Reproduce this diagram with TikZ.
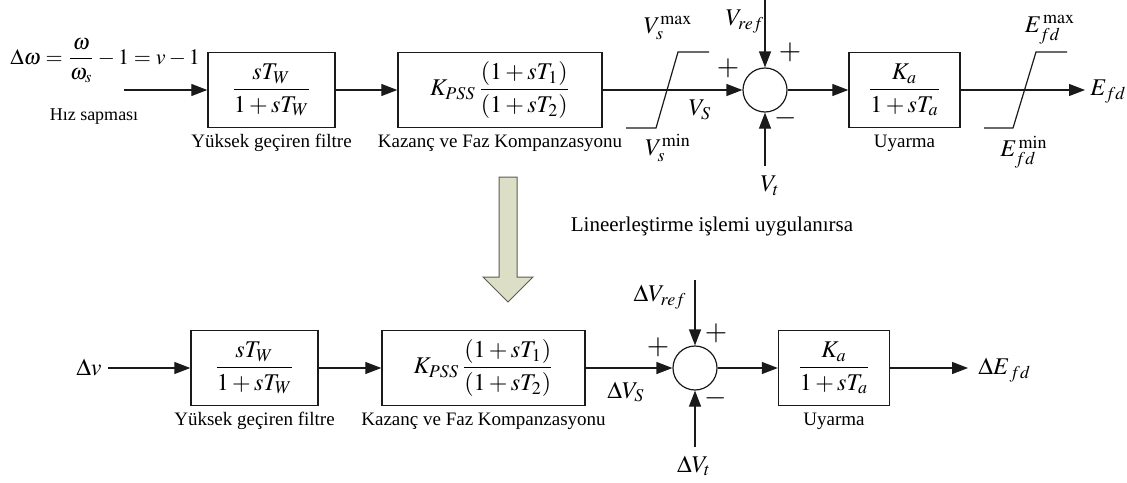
\documentclass[tikz,border=0pt]{standalone}
\usepackage{amsmath}
\usepackage{mathptmx}
\usepackage{fontspec}
\setmainfont{Liberation Serif}
\usepackage{tikz}
\usetikzlibrary{arrows.meta,positioning}
\definecolor{ink}{HTML}{1A1A1A}
\definecolor{olive}{HTML}{DCDFC6}
\definecolor{oliveline}{HTML}{5A5E52}
\tikzset{
  blk/.style={draw=ink,line width=0.7pt,minimum height=37.5pt,inner sep=0pt,font=\large},
  sumc/.style={draw=ink,line width=0.6pt,circle,minimum size=22pt,inner sep=0pt},
  fl/.style={-{Triangle[length=8pt,width=6pt]},draw=ink,line width=0.6pt},
  lim/.style={draw=ink,line width=0.6pt},
  capt/.style={font=\fontsize{9.5}{11}\selectfont,inner sep=1pt},
  sig/.style={font=\large,inner sep=0pt},
  sgn/.style={font=\Large,inner sep=0pt},
  bigarr/.style={draw=oliveline,line width=0.5pt,fill=olive},
}
\begin{document}
\begin{tikzpicture}[x=0.5pt,y=-0.5pt]
\useasboundingbox (0,0) rectangle (1127,482);
% --- nonlinear model
\node[blk,minimum width=63.5pt] (hpf) at (271.5,90) {$\dfrac{sT_W}{1+sT_W}$};
\node[blk,minimum width=102pt] (lead) at (500,90) {$K_{PSS}\,\dfrac{(1+sT_1)}{(1+sT_2)}$};
\node[sumc] (sumt) at (765,90) {};
\node[blk,minimum width=55.5pt] (exc) at (904.5,90) {$\dfrac{K_a}{1+sT_a}$};
\coordinate (win) at (124,90);
\coordinate (vrefin) at (765,0);
\coordinate (vtin) at (765,166);
\coordinate (efd) at (1085,90);
\node[sig,font=\fontsize{11}{13}\selectfont,anchor=base west] (dw) at (10,64) {$\Delta\omega=\dfrac{\omega}{\omega_s}-1=v-1$};
\node[capt,font=\small] (hiz) at (94,117) {Hız sapması};
\draw[fl] (win) -- (hpf);
\draw[fl] (hpf) -- (lead);
\draw[fl] (lead) -- (sumt);
\draw[fl] (sumt) -- (exc);
\draw[fl] (exc) -- (efd);
\draw[fl] (vrefin) -- (sumt.north);
\draw[fl] (vtin) -- (sumt.south);
\draw[lim] (626,128) -- (656,128) -- (678,52) -- (709,52);
\draw[lim] (984,128) -- (1013,128) -- (1036,52) -- (1067,52);
\node[sig] (vsmax) at (668,28) {$V_s^{\max}$};
\node[sig] (vsmin) at (668,148) {$V_s^{\min}$};
\node[sig] (vs) at (700,110) {$V_S$};
\node[sig] (vref) at (745,22) {$V_{ref}$};
\node[sig] (vt) at (770,186) {$V_t$};
\node[sig] (emax) at (1050,30) {$E_{fd}^{\,\max}$};
\node[sig] (emin) at (1024,152) {$E_{fd}^{\,\min}$};
\node[sig,anchor=west] (efdl) at (1090,92) {$E_{fd}$};
\node[sgn] (p1) at (728,68) {$+$};
\node[sgn] (p2) at (790,52) {$+$};
\node[sgn] (m1) at (786,118) {$-$};
% --- transition
\draw[bigarr] (499,177) -- (517,177) -- (517,277) -- (533,277) -- (508,302)
  -- (483,277) -- (499,277) -- cycle;
\node[font=\fontsize{10.5}{12}\selectfont] (lin) at (712,226) {Lineerleştirme işlemi uygulanırsa};
% --- linearised model
\node[blk,minimum width=63.5pt] (hpfb) at (254.5,368) {$\dfrac{sT_W}{1+sT_W}$};
\node[blk,minimum width=101.5pt] (leadb) at (483.5,368) {$K_{PSS}\,\dfrac{(1+sT_1)}{(1+sT_2)}$};
\node[sumc] (sumb) at (695,368) {};
\node[blk,minimum width=55.5pt] (excb) at (834,368) {$\dfrac{K_a}{1+sT_a}$};
\coordinate (dvin) at (108,368);
\coordinate (dvrefin) at (695,280);
\coordinate (dvtin) at (695,447);
\coordinate (defd) at (968,368);
\node[sig,anchor=east] (dv) at (102,368) {$\Delta v$};
\draw[fl] (dvin) -- (hpfb);
\draw[fl] (hpfb) -- (leadb);
\draw[fl] (leadb) -- (sumb);
\draw[fl] (sumb) -- (excb);
\draw[fl] (excb) -- (defd);
\draw[fl] (dvrefin) -- (sumb.north);
\draw[fl] (dvtin) -- (sumb.south);
\node[sig] (dvs) at (626,392) {$\Delta V_S$};
\node[sig,anchor=east] (dvref) at (687,297) {$\Delta V_{ref}$};
\node[sig] (dvt) at (694,466) {$\Delta V_t$};
\node[sig,anchor=west] (defdl) at (978,370) {$\Delta E_{\,fd}$};
\node[sgn] (p3) at (658,347) {$+$};
\node[sgn] (p4) at (716,333) {$+$};
\node[sgn] (m2) at (716,398) {$-$};
% --- captions under the blocks
\foreach \b/\txt in {hpf/Yüksek geçiren filtre,lead/Kazanç ve Faz Kompanzasyonu,exc/Uyarma,
  hpfb/Yüksek geçiren filtre,leadb/Kazanç ve Faz Kompanzasyonu,excb/Uyarma}
  \node[capt,below=2pt of \b] (\b l) {\txt};
\end{tikzpicture}
\end{document}
